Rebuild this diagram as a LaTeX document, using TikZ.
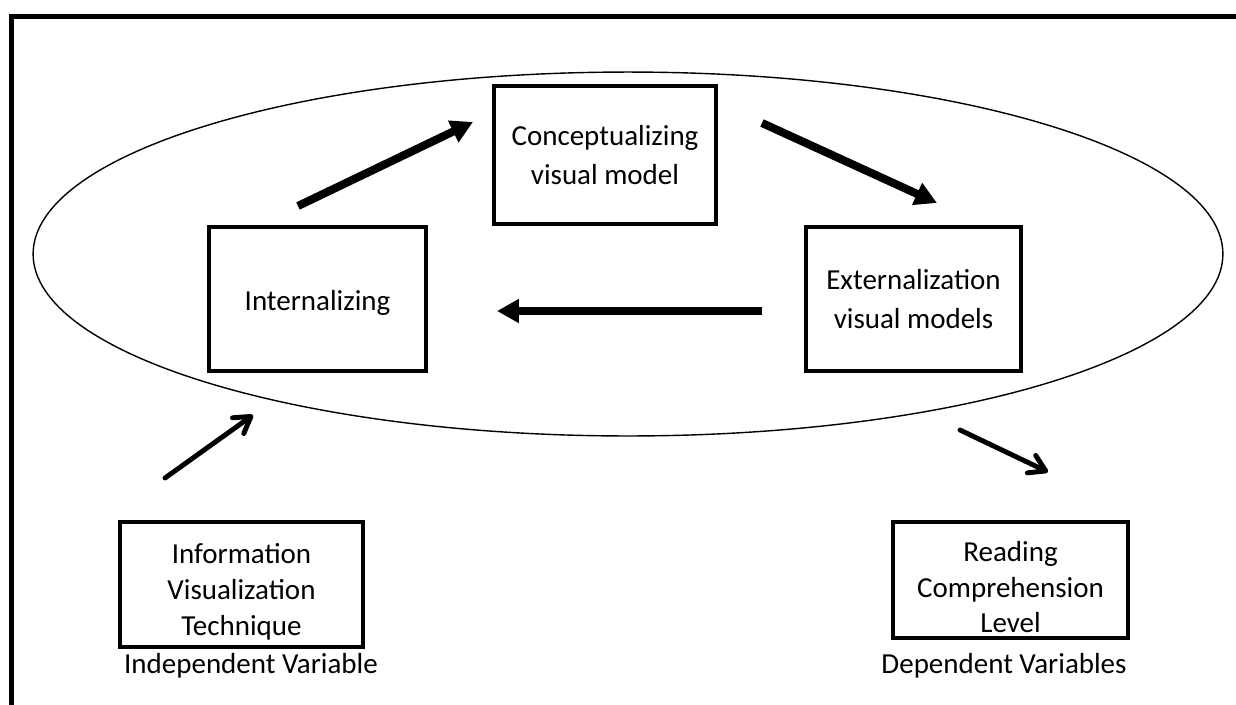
\documentclass[tikz,border=0pt]{standalone}
\usepackage{fontspec}
\setmainfont{Carlito}
\usetikzlibrary{positioning,arrows.meta,shapes.geometric}

\newcommand{\toppad}[1]{\rule{0pt}{#1}}

\tikzset{
  stagebox/.style={draw, line width=2.3pt, align=center, inner sep=0pt,
    font=\fontsize{16.5}{20.4}\selectfont},
  bigarrow/.style={line width=4.6pt, -{Triangle[length=12.5pt,width=13pt]}},
  smallarrow/.style={line width=2.8pt, line cap=round,
    -{Straight Barb[length=9pt,width=11pt,line cap=round,line join=round]}},
  varlabel/.style={font=\fontsize{16.5}{20.4}\selectfont}
}

\begin{document}
\begin{tikzpicture}[x=0.02cm,y=-0.02cm]
  \useasboundingbox (0,0) rectangle (1236,704);
  % frame, cut off at right and bottom
  \draw[line width=2.8pt] (11.5,730) |- (1260,16.5);
  % the cycle
  \node[ellipse, draw, line width=0.8pt, inner sep=0pt,
    minimum width=23.8cm, minimum height=7.28cm] (cycle) at (628,254) {};
  \node[stagebox, minimum width=4.44cm, minimum height=2.76cm] (concept) at (605,155)
    {Conceptualizing\\[2.3pt]visual model};
  \node[stagebox, minimum width=4.34cm, minimum height=2.88cm] (intern) at (317.5,299)
    {\toppad{16pt}Internalizing};
  \node[stagebox, minimum width=4.30cm, minimum height=2.88cm] (extern) at (913.5,299)
    {Externalization\\[2.3pt]visual models};
  % variables
  \node[stagebox, minimum width=4.86cm, minimum height=2.5cm] (info) at (241.5,584.5)
    {\toppad{19.5pt}Information\\Visualization\\Technique};
  \node[stagebox, minimum width=4.70cm, minimum height=2.32cm] (read) at (1010.5,580)
    {\toppad{19.5pt}Reading\\Comprehension\\Level};
  \node[varlabel] (indep) at (251,666) {Independent Variable};
  \node[varlabel] (dep) at (1004,666) {Dependent Variables};
  % arrow ends
  \coordinate (intout) at (298,206);
  \coordinate (conin) at (473,122);
  \coordinate (conout) at (762,123);
  \coordinate (extin) at (937,203);
  \coordinate (extout) at (762,311);
  \coordinate (intin) at (497,311);
  \coordinate (infoout) at (165,478);
  \coordinate (cyclein) at (253,415);
  \coordinate (cycleout) at (960,430);
  \coordinate (readin) at (1048,472);
  \draw[bigarrow] (intout) -- (conin);
  \draw[bigarrow] (conout) -- (extin);
  \draw[bigarrow] (extout) -- (intin);
  \draw[smallarrow] (infoout) -- (cyclein);
  \draw[smallarrow] (cycleout) -- (readin);
\end{tikzpicture}
\end{document}
